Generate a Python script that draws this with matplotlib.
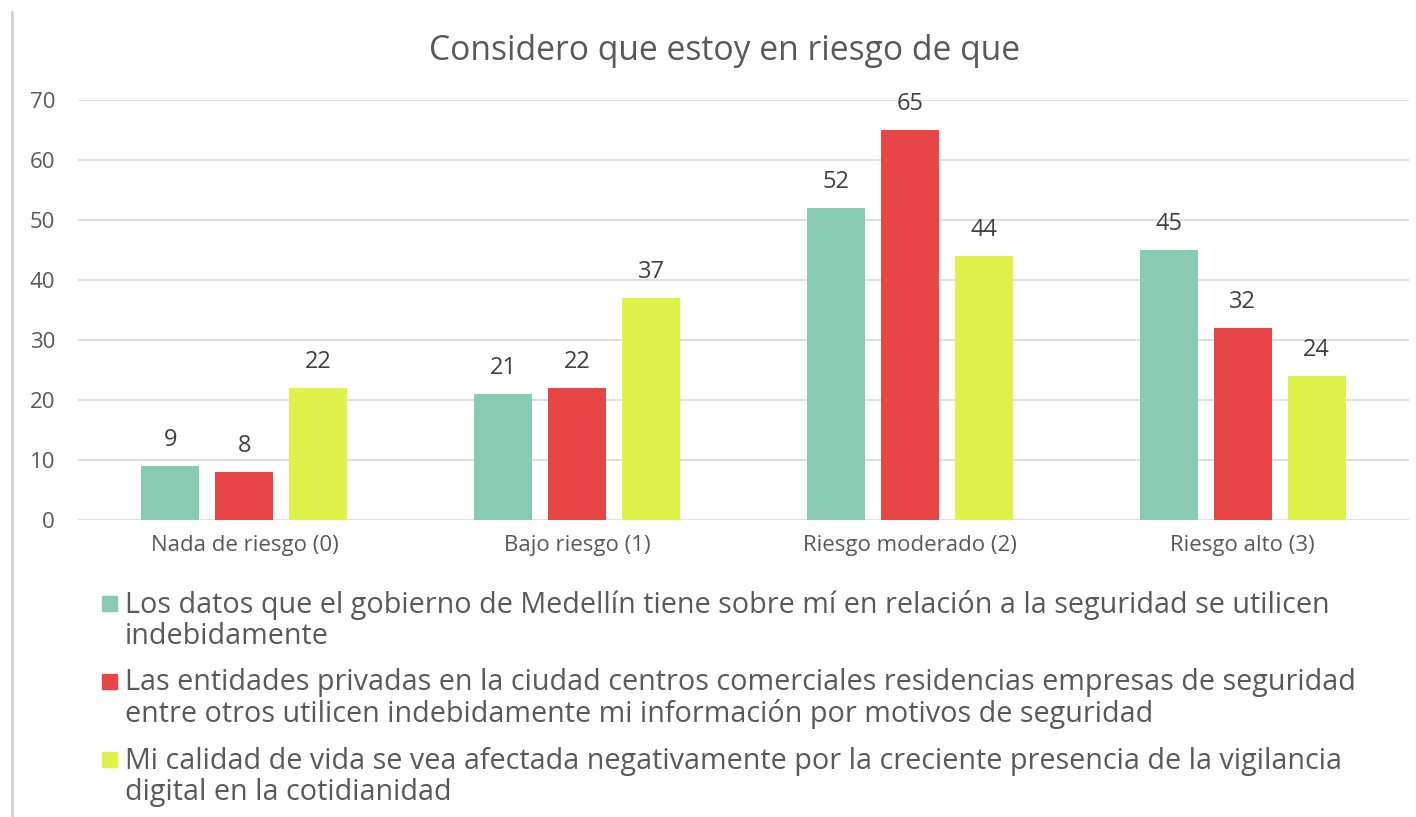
import numpy as np
import matplotlib.pyplot as plt
from matplotlib.lines import Line2D
from matplotlib.patches import Rectangle

# data
categories = ['Nada de riesgo (0)', 'Bajo riesgo (1)', 'Riesgo moderado (2)', 'Riesgo alto (3)']
gobierno = [9, 21, 52, 45]
privadas = [8, 22, 65, 32]
calidad = [22, 37, 44, 24]
labels = [
    'Los datos que el gobierno de Medellín tiene sobre mí en relación a la seguridad se utilicen\nindebidamente',
    'Las entidades privadas en la ciudad centros comerciales residencias empresas de seguridad\nentre otros utilicen indebidamente mi información por motivos de seguridad',
    'Mi calidad de vida se vea afectada negativamente por la creciente presencia de la vigilancia\ndigital en la cotidianidad',
]
colors = ['#88CBB3', '#E84646', '#DFF24A']
series = [gobierno, privadas, calidad]

plt.rcParams['font.family'] = ['Open Sans', 'DejaVu Sans']
txt = '#595959'

fig = plt.figure(figsize=(14.16, 8.17), dpi=100)
ax = fig.add_axes([0.0551, 0.3635, 0.94, 0.5141])

x = np.arange(len(categories))
w = 0.174
step = 0.2224
for i, (vals, c) in enumerate(zip(series, colors)):
    pos = x + (i - 1) * step
    bars = ax.bar(pos, vals, width=w, color=c, zorder=3)
    for b, v in zip(bars, vals):
        ax.text(b.get_x() + b.get_width() / 2, v + 2.4, str(v), ha='center', va='bottom',
                fontsize=17, color='#404040')

ax.set_xlim(-0.5, 3.5)
ax.set_ylim(0, 70)
ax.set_yticks(range(0, 71, 10))
ax.set_xticks(x)
ax.set_xticklabels(categories, fontsize=16, color=txt)
ax.tick_params(axis='y', labelsize=16, labelcolor=txt, length=0, pad=16.5)
ax.tick_params(axis='x', length=0, pad=11)
ax.grid(axis='y', color='#d9d9d9', linewidth=1.2, zorder=0)
for s in ax.spines.values():
    s.set_visible(False)

fig.text(0.512, 0.938, 'Considero que estoy en riesgo de que', ha='center', va='center',
         fontsize=24.2, color=txt)

# legend (square beside the first line, text baseline = last line)
for i, (lab, c) in enumerate(zip(labels, colors)):
    yb = 0.251 - i * 0.0955
    fig.add_artist(Rectangle((0.072, yb + 0.0015), 0.0106, 0.0184, color=c,
                             transform=fig.transFigure))
    fig.text(0.0883, yb - 0.0392, lab, color=txt, fontsize=20.7, va='baseline', ha='left',
             linespacing=1.09)

fig.add_artist(Line2D([0.0085, 0.0085], [0.0, 0.985], color='#d0d0d0', linewidth=2))

plt.savefig('out.png', dpi=100)
